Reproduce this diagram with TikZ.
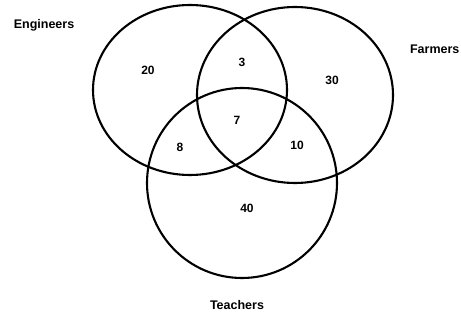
\documentclass[tikz,border=0pt]{standalone}
\usepackage{fontspec}
\setmainfont{Liberation Sans}
\begin{document}
\begin{tikzpicture}[x=1pt,y=-1pt,line width=2.1pt,
  setname/.style={font=\fontsize{12.5}{13}\selectfont\bfseries,inner sep=0pt},
  count/.style={font=\fontsize{12}{13}\selectfont\bfseries,inner sep=0pt}]
 \path[use as bounding box] (0,0) rectangle (461,320);
 \coordinate (e) at (190,90); \coordinate (f) at (295,95); \coordinate (t) at (242,183);
 \draw (e) ellipse [x radius=97, y radius=85];
 \draw (f) ellipse [x radius=98, y radius=88];
 \draw (t) ellipse [x radius=95, y radius=95];
 \node[setname] (eng) at (44,25) {Engineers};
 \node[setname,anchor=west] (farm) at (409,49) {Farmers};
 \node[setname] (teach) at (237,305) {Teachers};
 \node[count] (n20) at (148,70) {20};
 \node[count] (n3) at (242,62) {3};
 \node[count] (n30) at (332,80) {30};
 \node[count] (n7) at (237,120) {7};
 \node[count] (n8) at (180,147) {8};
 \node[count] (n10) at (297,145) {10};
 \node[count] (n40) at (247,208) {40};
\end{tikzpicture}
\end{document}
